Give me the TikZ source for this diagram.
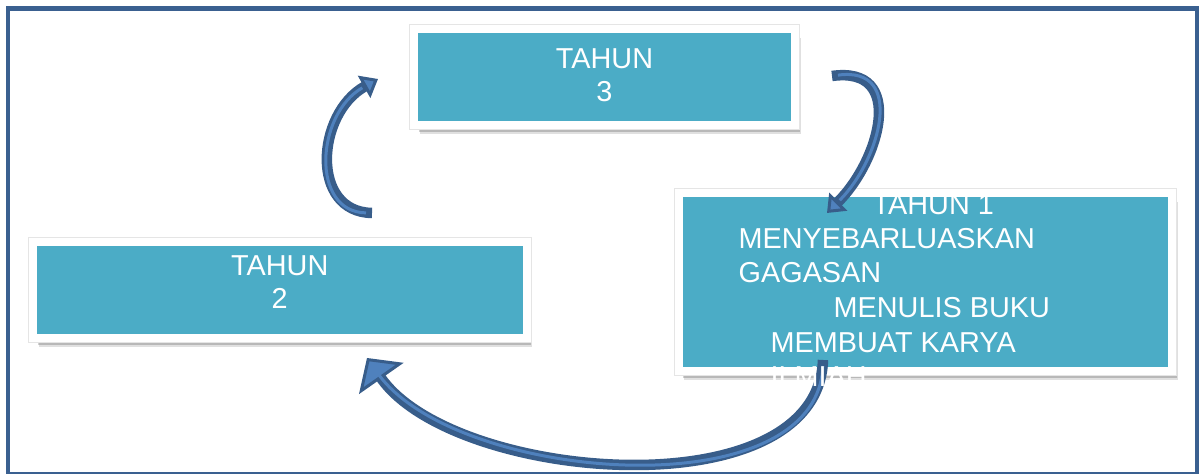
\documentclass[tikz,border=0pt]{standalone}
\usepackage{fontspec}
\setmainfont{Liberation Sans}
\usepackage{tikz}
\usetikzlibrary{arrows.meta,shadows}
\definecolor{kotak}{HTML}{4BACC6}
\definecolor{bingkai}{HTML}{3A6090}
\definecolor{gelap}{HTML}{385D8A}
\definecolor{terang}{HTML}{4F81BD}

\begin{document}
\begin{tikzpicture}[x=0.1mm,y=0.1mm,
    tahun/.style={rectangle,fill=kotak,draw=white,line width=0.8mm,inner sep=0pt,
        drop shadow={shadow xshift=0.45mm,shadow yshift=-0.7mm,fill=black,opacity=0.18},
        drop shadow={shadow xshift=0.55mm,shadow yshift=-0.95mm,fill=black,opacity=0.12},
        preaction={draw=black!10,line width=1.0mm}},
    tulisan/.style={text=white,font=\fontsize{8.2}{9.4}\selectfont,align=center,inner sep=0pt},
    baris/.style={text=white,font=\fontsize{8.2}{9.4}\selectfont,anchor=base west,inner sep=0pt},
    panah/.style={draw=gelap,line width=1.05mm,
        postaction={draw=terang,line width=0.3mm,arrows=-,shorten >=1.8mm,shorten <=0.6mm}}]
    \useasboundingbox (0,0) rectangle (1199,474);
    \draw[bingkai,line width=0.5mm] (8,-0.5) rectangle (1197.5,465);
    \node[tahun,minimum width=38.1mm,minimum height=9.6mm](t3)at(604.5,397){};
    \node[tahun,minimum width=49.35mm,minimum height=9.6mm](t2)at(279.75,184){};
    \node[tahun,minimum width=49.35mm,minimum height=17.8mm](t1)at(925.25,192){};
    \coordinate (a1) at (372,261);
    \coordinate (b1) at (378,395);
    \coordinate (a2) at (832,398);
    \coordinate (b2) at (827,261);
    \coordinate (a3) at (823,114);
    \coordinate (b3) at (367,116);
    \draw[panah,-{Triangle[length=1.6mm 0,width=2.5mm 0,fill=terang,line width=0.3mm 0]}] (a1) .. controls (310,262) and (316,360) .. (b1);
    \draw[panah,-{Triangle[length=1.6mm 0,width=2.5mm 0,fill=terang,line width=0.3mm 0]}] (a2) to[out=8,in=45,looseness=1.4] (b2);
    \draw[panah,-{Triangle[length=2.5mm 0,width=5.4mm 0,fill=terang,line width=0.3mm 0]}] (a3) to[out=268,in=305,looseness=0.85] (b3);
    \node[tulisan](l3)at([yshift=0.15mm]t3.center){TAHUN\\3};
    \node[tulisan](l2)at([yshift=0.75mm]t2.center){TAHUN\\2};
    \node[baris](m1)at(872,259){TAHUN 1};
    \node[baris](m2)at(738,225){MENYEBARLUASKAN};
    \node[baris](m3)at(738,191){GAGASAN};
    \node[baris](m4)at(833,156){MENULIS BUKU};
    \node[baris](m5)at(770,121){MEMBUAT KARYA};
    \node[baris](m6)at(770,87){ILMIAH};
\end{tikzpicture}
\end{document}
